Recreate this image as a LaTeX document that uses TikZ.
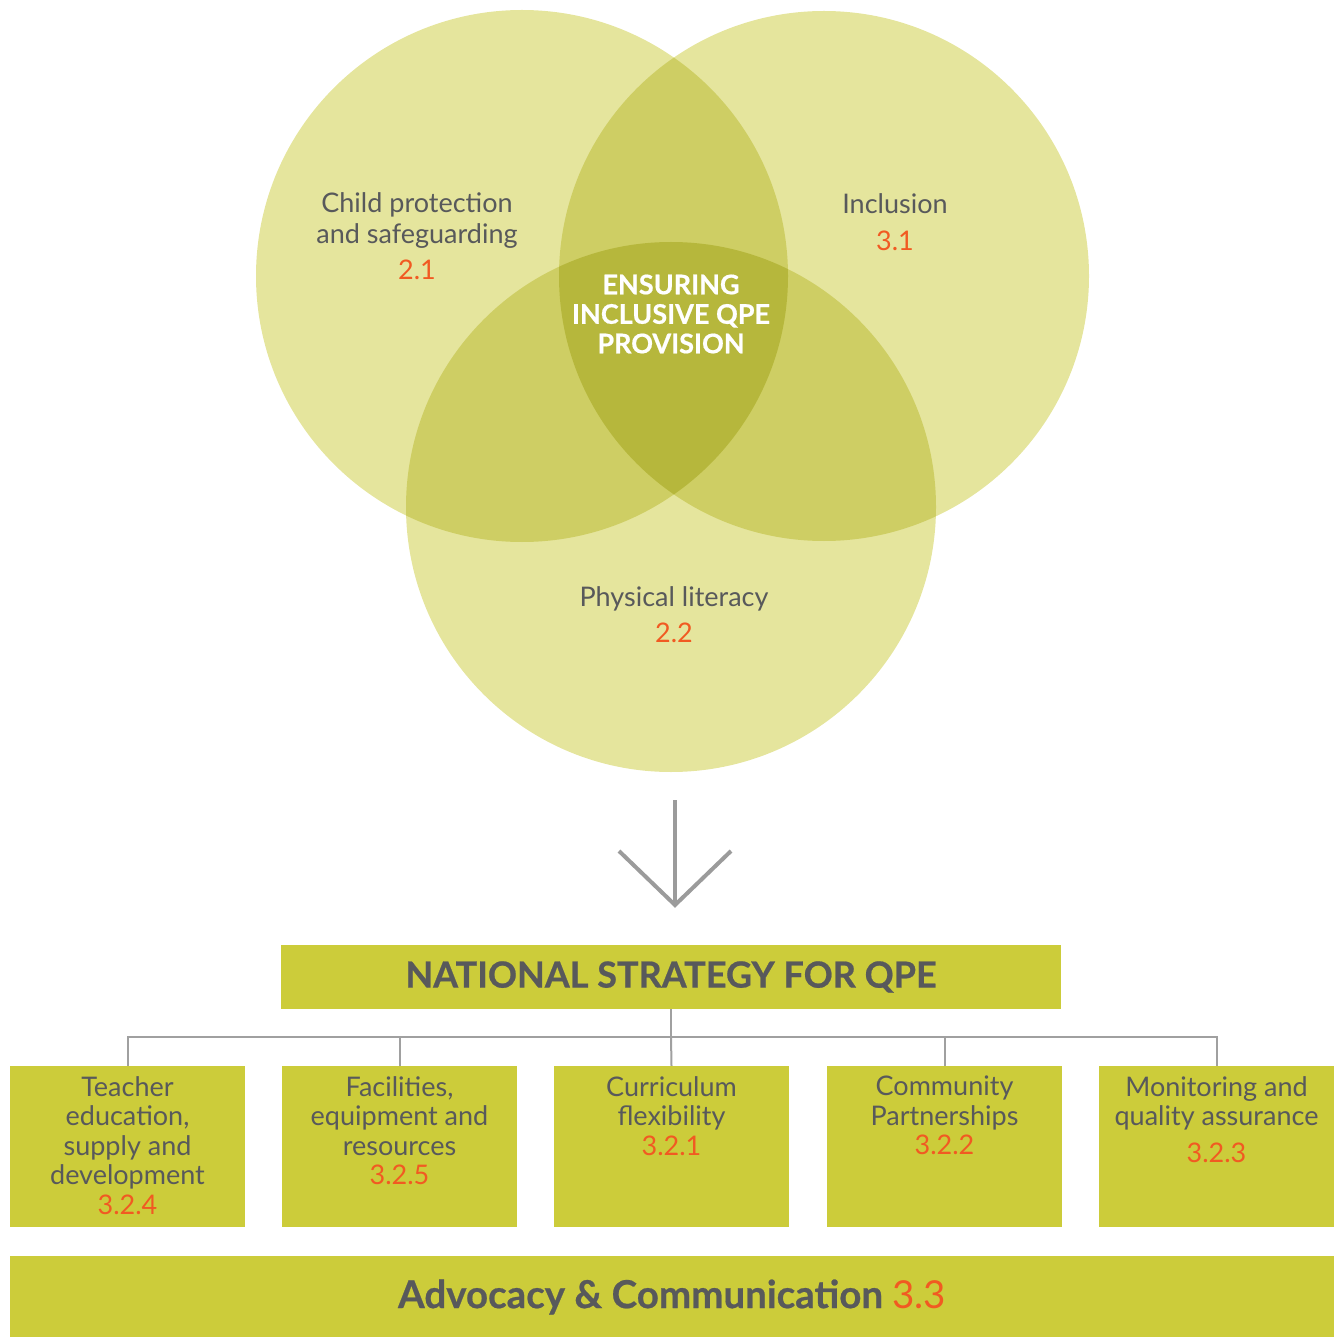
\documentclass[tikz,border=0pt]{standalone}
\usepackage{fontspec}
\setmainfont{Lato}
\newfontfamily\heavyfont{Lato}[BoldFeatures={FakeBold=0.6}]
\definecolor{vsingle}{RGB}{229,229,157}
\definecolor{vdouble}{RGB}{206,206,100}
\definecolor{vtriple}{RGB}{182,183,60}
\definecolor{boxfill}{RGB}{204,204,58}
\definecolor{txtgray}{RGB}{88,89,91}
\definecolor{numorange}{RGB}{241,90,34}
\definecolor{linegray}{RGB}{160,160,160}
\definecolor{arrowgray}{RGB}{155,155,155}
\begin{document}
\begin{tikzpicture}[x=1pt,y=-1pt,
  lbl/.style={align=center, inner sep=0pt, text=txtgray, font=\fontsize{27}{31}\selectfont},
  core/.style={align=center, inner sep=0pt, text=white, font=\fontsize{27}{29.5}\selectfont\heavyfont\bfseries},
  arrowline/.style={draw=arrowgray, line width=4pt, line join=miter},
  strat/.style={fill=boxfill, minimum width=780pt, minimum height=64pt, inner sep=0pt, text=txtgray, font=\fontsize{36}{40}\selectfont\heavyfont\bfseries},
  itembox/.style={fill=boxfill, minimum width=235pt, minimum height=161pt, inner sep=0pt},
  itemtext/.style={align=center, inner sep=0pt, anchor=north, text=txtgray, font=\fontsize{27}{29.5}\selectfont},
  bar/.style={fill=boxfill, minimum width=1324pt, minimum height=82pt, inner sep=0pt, text=txtgray, font=\fontsize{38.5}{44}\selectfont\heavyfont\bfseries},
  conn/.style={draw=linegray, line width=2pt}
]
\useasboundingbox (0,0) rectangle (1339,1337);
% Venn circles
\def\cA{(522,276) circle[radius=266pt]}
\def\cB{(824,276) circle[radius=265pt]}
\def\cC{(671,507) circle[radius=265pt]}
\fill[vsingle] \cA; \fill[vsingle] \cB; \fill[vsingle] \cC;
\begin{scope}\clip \cA; \fill[vdouble] \cB; \fill[vdouble] \cC; \end{scope}
\begin{scope}\clip \cB; \fill[vdouble] \cC; \end{scope}
\begin{scope}\clip \cA; \clip \cB; \fill[vtriple] \cC; \end{scope}
% Venn labels
\node[lbl] (cp) at (417,236) {Child protection\\and safeguarding\\[5pt]{\color{numorange}2.1}};
\node[lbl] (inc) at (895,222) {Inclusion\\[6pt]{\color{numorange}3.1}};
\node[core] (ens) at (671,314) {ENSURING\\INCLUSIVE QPE\\PROVISION};
\node[lbl] (phy) at (674,615) {Physical literacy\\[5pt]{\color{numorange}2.2}};
% Arrow
\coordinate (atop) at (675,800);
\coordinate (atip) at (675,905);
\coordinate (aleft) at (619,851);
\coordinate (aright) at (731,851);
\draw[arrowline] (atop) -- (atip);
\draw[arrowline] (aleft) -- (atip) -- (aright);
% National strategy
\node[strat] (ns) at (671,977) {NATIONAL STRATEGY FOR QPE};
% Item boxes
\node[itembox] (b1) at (127.5,1146.5) {};
\node[itembox] (b2) at (399.5,1146.5) {};
\node[itembox] (b3) at (671.5,1146.5) {};
\node[itembox] (b4) at (944.5,1146.5) {};
\node[itembox] (b5) at (1216.5,1146.5) {};
\node[itemtext] (t1) at (127.5,1076) {Teacher\\education,\\supply and\\development\\{\color{numorange}3.2.4}};
\node[itemtext] (t2) at (399.5,1076) {Facilities,\\equipment and\\resources\\{\color{numorange}3.2.5}};
\node[itemtext] (t3) at (671.5,1076) {Curriculum\\flexibility\\{\color{numorange}3.2.1}};
\node[itemtext] (t4) at (944.5,1076) {Community\\Partnerships\\{\color{numorange}3.2.2}};
\node[itemtext] (t5) at (1216.5,1076) {Monitoring and\\quality assurance\\[7pt]{\color{numorange}3.2.3}};
% Connectors
\coordinate (bus) at (671,1037);
\draw[conn] (ns.south) -- (bus);
\draw[conn] (b1.north) |- (bus);
\draw[conn] (b2.north) |- (bus);
\draw[conn] (b3.north) -- (bus);
\draw[conn] (b4.north) |- (bus);
\draw[conn] (b5.north) |- (bus);
% Bottom bar
\node[bar] (adv) at (672,1297) {Advocacy \& Communication {\mdseries\color{numorange}3.3}};
\end{tikzpicture}
\end{document}
